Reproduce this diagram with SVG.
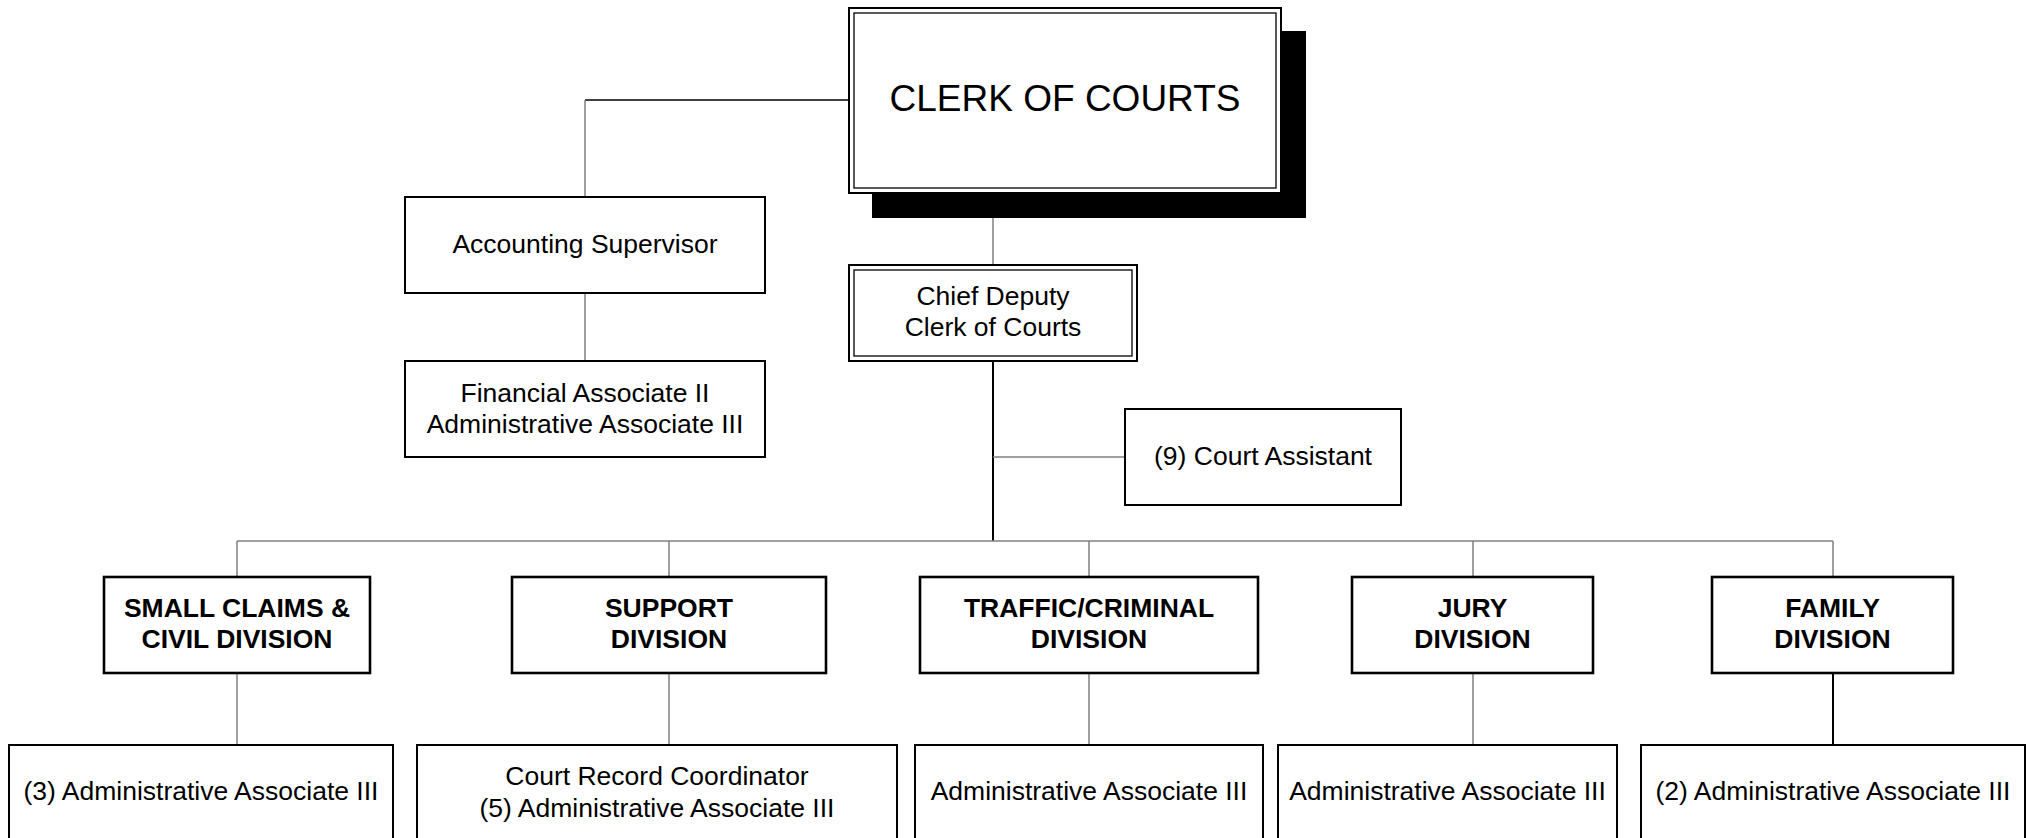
<svg xmlns="http://www.w3.org/2000/svg" width="2026" height="838" viewBox="0 0 2026 838">
<style>
text{font-family:"Liberation Sans",Arial,sans-serif;fill:#000;text-anchor:middle}
.t{font-size:26.5px}
.b{font-size:26.5px;font-weight:bold}
.big{font-size:37px}
.box{fill:#fff;stroke:#000;stroke-width:2}
.div{fill:#fff;stroke:#000;stroke-width:2.6}
.inner{fill:none;stroke:#000;stroke-width:1.3}
.g{stroke:#808080;stroke-width:1.5;fill:none}
.k{stroke:#000;stroke-width:2;fill:none}
.k1{stroke:#000;stroke-width:1.3;fill:none}
</style>
<rect width="2026" height="838" fill="#fff"/>
<g id="connectors">
<path class="k1" d="M849 100H585"/>
<path class="g" d="M585 100V196"/>
<path class="g" d="M585 293V361"/>
<path class="g" d="M993 193V265"/>
<path class="k" d="M993 361V541"/>
<path class="g" d="M993 457H1125"/>
<path class="g" d="M237 541H1833"/>
<path class="g" d="M237 541V577M669 541V577M1089 541V577M1473 541V577M1833 541V577"/>
<path class="g" d="M237 673V745M669 673V745M1089 673V745M1473 673V745"/>
<path class="k" d="M1833 673V745"/>
</g>
<g id="clerk">
<rect x="872" y="31" width="434" height="187" fill="#000"/>
<rect class="box" x="849" y="8" width="432" height="185"/>
<rect class="inner" x="854" y="13" width="422" height="175"/>
<text class="big" x="1065" y="111">CLERK OF COURTS</text>
</g>
<g id="accounting">
<rect class="box" x="405" y="197" width="360" height="96"/>
<text class="t" x="585" y="253">Accounting Supervisor</text>
</g>
<g id="financial">
<rect class="box" x="405" y="361" width="360" height="96"/>
<text class="t" x="585" y="402">Financial Associate II</text>
<text class="t" x="585" y="433">Administrative Associate III</text>
</g>
<g id="chief">
<rect class="box" x="849" y="265" width="288" height="96"/>
<rect class="inner" x="854" y="270" width="278" height="86"/>
<text class="t" x="993" y="305">Chief Deputy</text>
<text class="t" x="993" y="336">Clerk of Courts</text>
</g>
<g id="court-assistant">
<rect class="box" x="1125" y="409" width="276" height="96"/>
<text class="t" x="1263" y="465">(9) Court Assistant</text>
</g>
<g id="small-claims">
<rect class="div" x="104" y="577" width="266" height="96"/>
<text class="b" x="237" y="617">SMALL CLAIMS &amp;</text>
<text class="b" x="237" y="648">CIVIL DIVISION</text>
</g>
<g id="support">
<rect class="div" x="512" y="577" width="314" height="96"/>
<text class="b" x="669" y="617">SUPPORT</text>
<text class="b" x="669" y="648">DIVISION</text>
</g>
<g id="traffic">
<rect class="div" x="920" y="577" width="338" height="96"/>
<text class="b" x="1089" y="617">TRAFFIC/CRIMINAL</text>
<text class="b" x="1089" y="648">DIVISION</text>
</g>
<g id="jury">
<rect class="div" x="1352" y="577" width="241" height="96"/>
<text class="b" x="1472.5" y="617">JURY</text>
<text class="b" x="1472.5" y="648">DIVISION</text>
</g>
<g id="family">
<rect class="div" x="1712" y="577" width="241" height="96"/>
<text class="b" x="1832.5" y="617">FAMILY</text>
<text class="b" x="1832.5" y="648">DIVISION</text>
</g>
<g id="sc-staff">
<rect class="box" x="9" y="745" width="384" height="130"/>
<text class="t" x="201" y="800">(3) Administrative Associate III</text>
</g>
<g id="support-staff">
<rect class="box" x="417" y="745" width="480" height="130"/>
<text class="t" x="657" y="785">Court Record Coordinator</text>
<text class="t" x="657" y="817">(5) Administrative Associate III</text>
</g>
<g id="traffic-staff">
<rect class="box" x="915" y="745" width="348" height="130"/>
<text class="t" x="1089" y="800">Administrative Associate III</text>
</g>
<g id="jury-staff">
<rect class="box" x="1278" y="745" width="339" height="130"/>
<text class="t" x="1447.5" y="800">Administrative Associate III</text>
</g>
<g id="family-staff">
<rect class="box" x="1641" y="745" width="384" height="130"/>
<text class="t" x="1833" y="800">(2) Administrative Associate III</text>
</g>
</svg>
